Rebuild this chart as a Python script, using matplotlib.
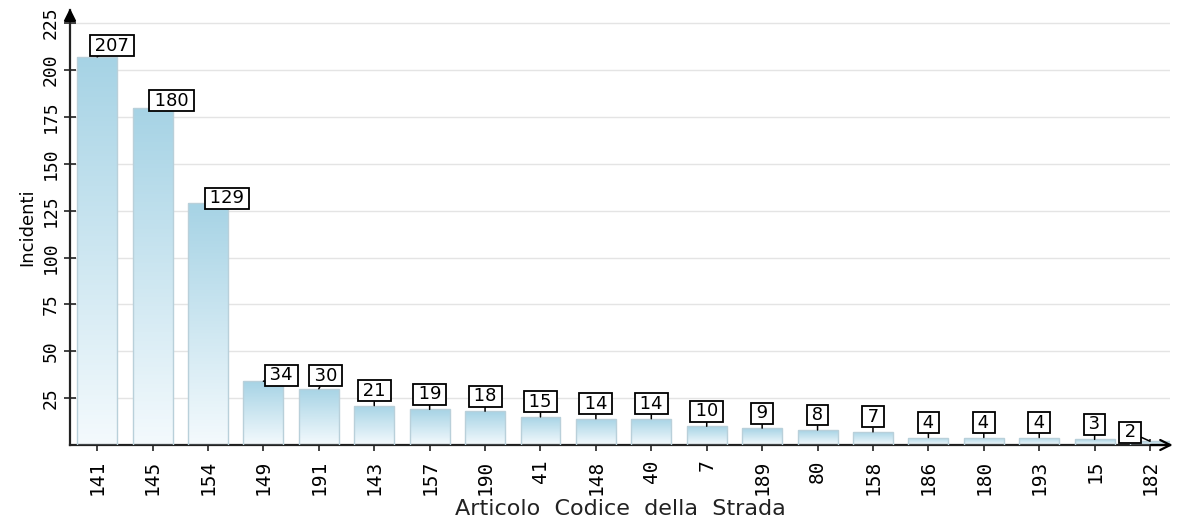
import matplotlib.pyplot as plt
import numpy as np
from matplotlib.colors import LinearSegmentedColormap

articoli = ["141", "145", "154", "149", "191", "143", "157", "190", "41", "148",
            "40", "7", "189", "80", "158", "186", "180", "193", "15", "182"]
incidenti = [207, 180, 129, 34, 30, 21, 19, 18, 15, 14, 14, 10, 9, 8, 7, 4, 4, 4, 3, 2]
yticks = [25, 50, 75, 100, 125, 150, 175, 200, 225]

# spostamento (pixel) delle etichette rispetto alla cima della barra
spost = {0: (15, 11), 1: (19, 7), 2: (19, 5), 3: (18, 6), 4: (7, 13), 19: (-20, 9)}

fig = plt.figure(figsize=(11.78, 5.22), dpi=100)
ax = fig.add_axes([70 / 1178, 77 / 522, 1100 / 1178, 435 / 522])

x = np.arange(len(articoli))
w = 0.72
cmap = LinearSegmentedColormap.from_list("sfumato", ["#f4fafd", "#a6d3e5"])
grad = np.linspace(0, 1, 256).reshape(-1, 1)

bars = ax.bar(x, incidenti, width=w, facecolor="none", edgecolor="#b9d0da",
              linewidth=1.0, zorder=3)
for b, v in zip(bars, incidenti):
    im = ax.imshow(grad, cmap=cmap, origin="lower", aspect="auto",
                   extent=(b.get_x(), b.get_x() + w, 0, v), zorder=2)
    im.set_clip_path(b)

for i, v in enumerate(incidenti):
    dx, dy = spost.get(i, (0, 15))
    ax.annotate("\u2009" + str(v) + "\u2009", xy=(x[i], v), xytext=(dx, dy),
                textcoords="offset pixels",
                ha="center", va="center", fontsize=13, family="DejaVu Sans",
                bbox=dict(boxstyle="square,pad=0.08", fc="white", ec="black", lw=1.3),
                arrowprops=dict(arrowstyle="-", lw=1.1, color="black",
                                shrinkA=0, shrinkB=0),
                zorder=5)

ax.set_xlim(-0.49, 19.36)
ax.set_ylim(0, 232)
ax.set_yticks(yticks)
ax.set_xticks(x)
ax.set_xticklabels(articoli, rotation=90, family="DejaVu Sans Mono", fontsize=14)
ax.set_yticklabels([str(t) for t in yticks], rotation=90, va="center",
                   family="DejaVu Sans Mono", fontsize=13)
ax.tick_params(direction="inout", length=9, width=1.2, color="#222222")
ax.tick_params(axis="x", pad=6)
ax.tick_params(axis="y", pad=3)
ax.grid(axis="y", color="#e4e4e4", lw=1, zorder=0)

for s in ["top", "right"]:
    ax.spines[s].set_visible(False)
for s in ["left", "bottom"]:
    ax.spines[s].set_linewidth(1.6)
    ax.spines[s].set_color("#222222")

# frecce alla fine degli assi
ax.annotate("", xy=(1.005, 0), xytext=(0.98, 0), xycoords="axes fraction",
            arrowprops=dict(arrowstyle="->", lw=1.6, color="black",
                            mutation_scale=18), annotation_clip=False)
ax.annotate("", xy=(0, 1.01), xytext=(0, 0.97), xycoords="axes fraction",
            arrowprops=dict(arrowstyle="-|>", lw=1.6, color="black",
                            mutation_scale=18), annotation_clip=False)

ax.set_ylabel("Incidenti", family=["Liberation Sans Narrow", "DejaVu Sans"],
              fontsize=13, labelpad=4)
ax.set_xlabel("Articolo  Codice  della  Strada", fontsize=16, labelpad=3,
              color="#222222")

fig.savefig("out.png", dpi=100)
